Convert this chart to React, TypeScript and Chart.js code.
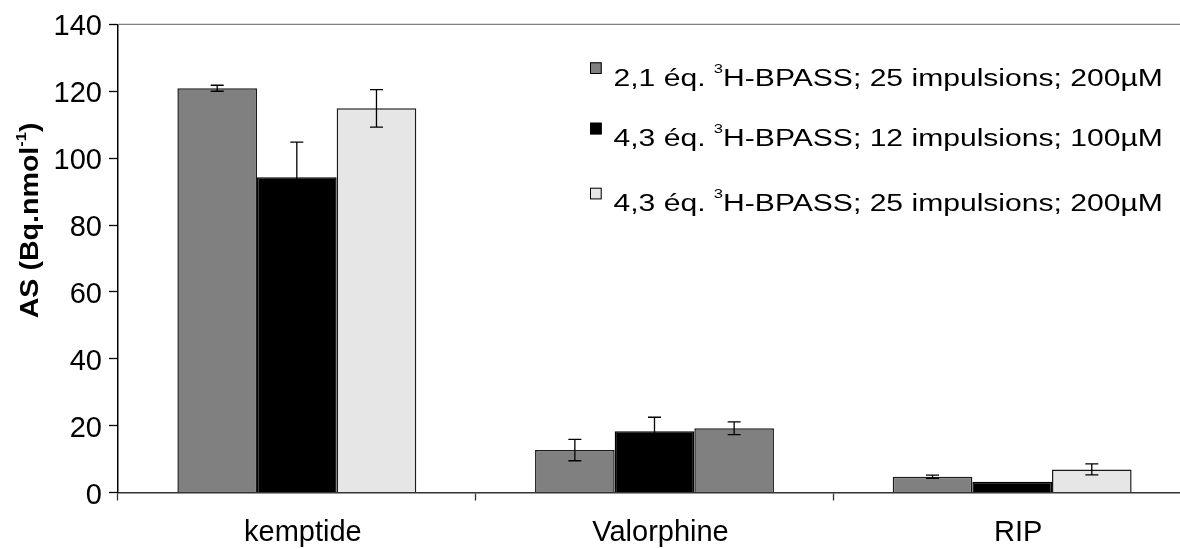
import React, { useEffect, useRef } from "react";
import { Chart, registerables } from "chart.js";

Chart.register(...registerables);

// ---- data ----
const categories = ["kemptide", "Valorphine", "RIP"];
const seriesLabels = [
  "2,1 éq. ³H-BPASS; 25 impulsions; 200µM",
  "4,3 éq. ³H-BPASS; 12 impulsions; 100µM",
  "4,3 éq. ³H-BPASS; 25 impulsions; 200µM",
];
const series1 = [120.9, 12.7, 4.7];
const series1Err = [0.9, 3.2, 0.5];
const series2 = [94.3, 18.3, 3.2];
const series2Err = [10.5, 4.2, 0];
const series3 = [114.9, 19.2, 6.9];
const series3Err = [5.6, 1.9, 1.65];
const yMin = 0;
const yMax = 140;
const yStep = 20;
const yTitleMain = "AS (Bq.nmol";
const yTitleSup = "-1";
const yTitleEnd = ")";

// ---- styles ----
const GRAY = "#808080";
const BLACK = "#000000";
const LIGHT = "#e6e6e6";
const series1Colors = [GRAY, GRAY, GRAY];
const series2Colors = [BLACK, BLACK, BLACK];
const series3Colors = [LIGHT, GRAY, LIGHT];
const legendColors = [GRAY, BLACK, LIGHT];
const FONT = '"Liberation Sans", Arial, Helvetica, sans-serif';

const errorsByDataset = [series1Err, series2Err, series3Err];

const framePlugin = {
  id: "frame",
  beforeDatasetsDraw(chart: any) {
    const { ctx, chartArea } = chart;
    ctx.save();
    ctx.strokeStyle = "#808080";
    ctx.lineWidth = 1.4;
    ctx.beginPath();
    ctx.moveTo(chartArea.left, chartArea.top);
    ctx.lineTo(chart.width, chartArea.top);
    ctx.stroke();
    ctx.restore();
  },
};

const errorBarPlugin = {
  id: "errorBars",
  afterDatasetsDraw(chart: any) {
    const { ctx } = chart;
    const yScale = chart.scales.y;
    ctx.save();
    ctx.strokeStyle = "#000";
    ctx.lineWidth = 1.3;
    chart.data.datasets.forEach((ds: any, di: number) => {
      const meta = chart.getDatasetMeta(di);
      const errs = errorsByDataset[di];
      meta.data.forEach((el: any, i: number) => {
        const v = ds.data[i];
        const e = errs[i];
        if (!e) return;
        const x = el.x;
        const yt = yScale.getPixelForValue(v + e);
        const yb = yScale.getPixelForValue(v - e);
        const hw = 6.5;
        ctx.beginPath();
        ctx.moveTo(x, yt);
        ctx.lineTo(x, yb);
        ctx.moveTo(x - hw, yt);
        ctx.lineTo(x + hw, yt);
        ctx.moveTo(x - hw, yb);
        ctx.lineTo(x + hw, yb);
        ctx.stroke();
      });
    });
    ctx.restore();
  },
};

const legendRowTops = [62.3, 122.7, 187.7];

const legendPlugin = {
  id: "customLegend",
  afterDraw(chart: any) {
    const { ctx } = chart;
    ctx.save();
    chart.data.datasets.forEach((ds: any, i: number) => {
      const top = legendRowTops[i];
      const box = 11.7;
      ctx.fillStyle = legendColors[i];
      ctx.fillRect(590, top, box, box);
      ctx.strokeStyle = "#000";
      ctx.lineWidth = 1;
      ctx.strokeRect(590.5, top + 0.5, box - 1, box - 1);
      const baseline = top + 23.4;
      const parts = String(ds.label).split("³");
      ctx.save();
      ctx.translate(613.5, baseline);
      ctx.scale(1.28, 1);
      ctx.fillStyle = "#000";
      ctx.textBaseline = "alphabetic";
      ctx.textAlign = "left";
      const mainFont = `23.5px ${FONT}`;
      const supFont = `13px ${FONT}`;
      let x = 0;
      parts.forEach((p: string, k: number) => {
        if (k > 0) {
          ctx.font = supFont;
          ctx.fillText("3", x, -13);
          x += ctx.measureText("3").width;
        }
        ctx.font = mainFont;
        ctx.fillText(p, x, 0);
        x += ctx.measureText(p).width;
      });
      ctx.restore();
    });
    ctx.restore();
  },
};

const titlePlugin = {
  id: "yTitle",
  afterDraw(chart: any) {
    const { ctx } = chart;
    ctx.save();
    ctx.translate(37.5, 220.4);
    ctx.rotate(-Math.PI / 2);
    ctx.scale(1.1, 1);
    ctx.fillStyle = "#000";
    ctx.textBaseline = "alphabetic";
    ctx.textAlign = "left";
    const mainFont = `bold 26px ${FONT}`;
    const supFont = `bold 15px ${FONT}`;
    ctx.font = mainFont;
    const w1 = ctx.measureText(yTitleMain).width;
    const w3 = ctx.measureText(yTitleEnd).width;
    ctx.font = supFont;
    const w2 = ctx.measureText(yTitleSup).width;
    let x = -(w1 + w2 + w3) / 2;
    ctx.font = mainFont;
    ctx.fillText(yTitleMain, x, 0);
    x += w1;
    ctx.font = supFont;
    ctx.fillText(yTitleSup, x, -12);
    x += w2;
    ctx.font = mainFont;
    ctx.fillText(yTitleEnd, x, 0);
    ctx.restore();
  },
};

export default function App() {
  const canvasRef = useRef<HTMLCanvasElement | null>(null);

  useEffect(() => {
    document.body.style.margin = "0";
    document.body.style.overflow = "hidden";
    const canvas = canvasRef.current;
    if (!canvas) return;
    const chart = new Chart(canvas, {
      type: "bar",
      data: {
        labels: categories,
        datasets: [
          {
            label: seriesLabels[0],
            data: series1,
            backgroundColor: series1Colors,
            borderColor: "#1a1a1a",
            borderWidth: 1.5,
          },
          {
            label: seriesLabels[1],
            data: series2,
            backgroundColor: series2Colors,
            borderColor: "#000",
            borderWidth: 1.5,
          },
          {
            label: seriesLabels[2],
            data: series3,
            backgroundColor: series3Colors,
            borderColor: "#1a1a1a",
            borderWidth: 1.5,
          },
        ],
      },
      options: {
        animation: false,
        responsive: false,
        devicePixelRatio: 1,
        layout: { padding: { top: 22, left: 0, right: 0, bottom: 0 } },
        datasets: {
          bar: { categoryPercentage: 0.668, barPercentage: 1.0 },
        },
        plugins: {
          legend: { display: false },
          tooltip: { enabled: false },
          title: { display: false },
        },
        scales: {
          x: {
            type: "category",
            afterFit: (scale: any) => {
              scale.height = 56.5;
            },
            grid: {
              offset: true,
              drawOnChartArea: false,
              drawTicks: true,
              tickLength: 8,
              tickColor: "#333",
              tickWidth: 1.3,
            },
            border: { display: true, color: "#333", width: 1.5 },
            ticks: {
              color: "#000",
              font: { family: FONT, size: 29 },
              padding: 15,
              labelOffset: 6,
              maxRotation: 0,
              autoSkip: false,
            },
          },
          y: {
            type: "linear",
            min: yMin,
            max: yMax,
            afterFit: (scale: any) => {
              scale.width = 118;
            },
            grid: {
              drawOnChartArea: false,
              drawTicks: true,
              tickLength: 9,
              tickColor: "#000",
              tickWidth: 1.3,
            },
            border: { display: true, color: "#000", width: 1.5 },
            ticks: {
              stepSize: yStep,
              color: "#000",
              font: { family: FONT, size: 29 },
              padding: 7,
              labelOffset: 3,
            },
          },
        },
      },
      plugins: [framePlugin, errorBarPlugin, legendPlugin, titlePlugin],
    } as any);
    return () => chart.destroy();
  }, []);

  return (
    <div
      style={{
        position: "fixed",
        left: 0,
        top: 0,
        width: "1180px",
        height: "549px",
        overflow: "hidden",
        background: "#fff",
      }}
    >
      <canvas ref={canvasRef} width={1191} height={549} style={{ display: "block" }} />
    </div>
  );
}
